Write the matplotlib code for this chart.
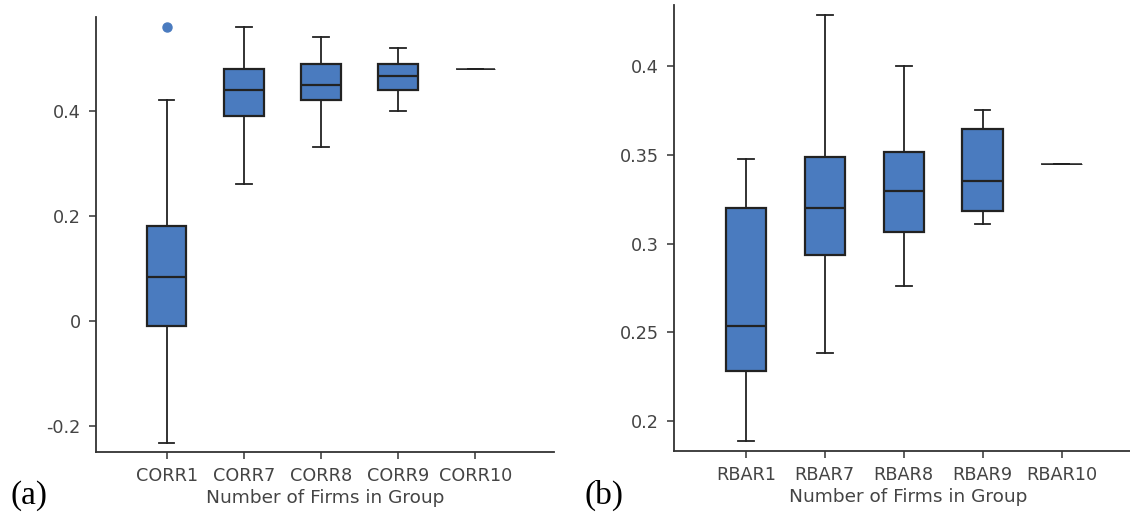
import matplotlib.pyplot as plt

# Panel (a): CORR
corr_labels = ["CORR1", "CORR7", "CORR8", "CORR9", "CORR10"]
corr_whislo = [-0.232, 0.261, 0.332, 0.401, 0.48]
corr_q1 = [-0.010, 0.391, 0.421, 0.440, 0.48]
corr_med = [0.085, 0.440, 0.450, 0.466, 0.48]
corr_q3 = [0.181, 0.480, 0.490, 0.490, 0.48]
corr_whishi = [0.421, 0.560, 0.540, 0.520, 0.48]
corr_fliers = [[0.560], [], [], [], []]
corr_yticks = [-0.2, 0, 0.2, 0.4]
corr_yticklabels = ["-0.2", "0", "0.2", "0.4"]

# Panel (b): RBAR
rbar_labels = ["RBAR1", "RBAR7", "RBAR8", "RBAR9", "RBAR10"]
rbar_whislo = [0.1887, 0.2387, 0.2762, 0.3111, 0.345]
rbar_q1 = [0.2281, 0.2936, 0.3066, 0.3186, 0.345]
rbar_med = [0.2535, 0.3200, 0.3298, 0.3353, 0.345]
rbar_q3 = [0.3200, 0.3489, 0.3518, 0.3647, 0.345]
rbar_whishi = [0.3478, 0.4289, 0.4000, 0.3752, 0.345]
rbar_fliers = [[], [], [], [], []]
rbar_yticks = [0.2, 0.25, 0.3, 0.35, 0.4]
rbar_yticklabels = ["0.2", "0.25", "0.3", "0.35", "0.4"]

BOX_COLOR = "#4a7bbf"
EDGE = "#222222"
AXIS = "#333333"
TEXT = "#444444"


def make_stats(labels, lo, q1, med, q3, hi, fl):
    stats = []
    for i in range(len(labels)):
        stats.append({"label": labels[i], "whislo": lo[i], "q1": q1[i],
                      "med": med[i], "q3": q3[i], "whishi": hi[i],
                      "fliers": fl[i]})
    return stats


def draw_panel(ax, stats, yticks, yticklabels, ylim, xlim):
    bp = ax.bxp(stats, positions=range(len(stats)), widths=0.51, capwidths=0.2,
                patch_artist=True, showfliers=True,
                boxprops=dict(facecolor=BOX_COLOR, edgecolor=EDGE, linewidth=1.6),
                medianprops=dict(color=EDGE, linewidth=1.6),
                whiskerprops=dict(color=EDGE, linewidth=1.3),
                capprops=dict(color=EDGE, linewidth=1.3),
                flierprops=dict(marker="o", markerfacecolor=BOX_COLOR,
                                markeredgecolor=BOX_COLOR, markersize=6.5))
    # last group has a single value: just a thin flat line
    bp["boxes"][-1].set_linewidth(0.6)
    bp["medians"][-1].set_linewidth(1.1)
    ax.set_xlim(*xlim)
    ax.set_ylim(*ylim)
    ax.set_yticks(yticks)
    ax.set_yticklabels(yticklabels)
    for s in ["top", "right"]:
        ax.spines[s].set_visible(False)
    for s in ["left", "bottom"]:
        ax.spines[s].set_color(AXIS)
        ax.spines[s].set_linewidth(1.3)
    ax.tick_params(axis="both", direction="out", length=5, width=1.1,
                   color=AXIS, labelcolor=TEXT, labelsize=12.7, pad=6)
    ax.set_xlabel("Number of Firms in Group", fontsize=13.3, color=TEXT,
                  labelpad=3)


fig = plt.figure(figsize=(11.3, 5.14), dpi=100)

ax1 = fig.add_axes([96 / 1130, 62 / 514, 458 / 1130, 435 / 514])
draw_panel(ax1, make_stats(corr_labels, corr_whislo, corr_q1, corr_med,
                           corr_q3, corr_whishi, corr_fliers),
           corr_yticks, corr_yticklabels, (-0.249, 0.579), (-0.916, 5.02))

ax2 = fig.add_axes([674 / 1130, 63 / 514, 468 / 1130, 446 / 514])
draw_panel(ax2, make_stats(rbar_labels, rbar_whislo, rbar_q1, rbar_med,
                           rbar_q3, rbar_whishi, rbar_fliers),
           rbar_yticks, rbar_yticklabels, (0.1833, 0.4343), (-0.91, 5.02))

fig.text(11 / 1130, 10 / 514, "(a)", fontsize=24, family="Liberation Serif",
         color="black")
fig.text(584 / 1130, 10 / 514, "(b)", fontsize=24, family="Liberation Serif",
         color="black")

fig.savefig("out.png", dpi=100)
